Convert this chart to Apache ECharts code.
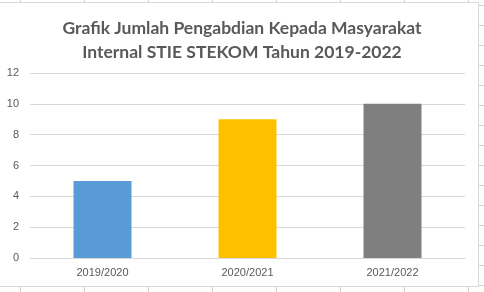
<!DOCTYPE html>
<html>
<head>
<meta charset="utf-8">
<script src="https://cdn.jsdelivr.net/npm/echarts@6/dist/echarts.min.js"></script>
<style>
html,body{margin:0;padding:0;width:484px;height:292px;overflow:hidden;background:#fff;}
#sheet{position:absolute;left:0;top:0;width:484px;height:292px;
background-image:
 linear-gradient(to right, transparent 20px, #d4d4d4 20px, #d4d4d4 21px, transparent 21px),
 linear-gradient(to bottom, transparent 5px, #d4d4d4 5px, #d4d4d4 6px, transparent 6px);
background-size:64px 100%, 100% 20px;
background-position:0 0, 0 0;}
#box{position:absolute;left:-1px;top:2px;width:480px;height:285px;box-sizing:border-box;border:1px solid #d9d9d9;background:#fff;}
#chart{position:absolute;left:0;top:0;width:484px;height:292px;}
</style>
</head>
<body>
<div id="sheet"></div>
<div id="box"></div>
<div id="chart"></div>
<script>
const titleLines = ["Grafik Jumlah Pengabdian Kepada Masyarakat", "Internal STIE STEKOM Tahun 2019-2022"];
const categories = ["2019/2020", "2020/2021", "2021/2022"];
const values = [5, 9, 10];
const barColors = ["#5B9BD5", "#FFC000", "#7F7F7F"];
const yTicks = [0, 2, 4, 6, 8, 10, 12];

const chart = echarts.init(document.getElementById('chart'), null, {renderer: 'canvas'});
chart.setOption({
  backgroundColor: 'transparent',
  animation: false,
  title: {
    text: titleLines.join('\n'),
    left: 'center',
    top: 11,
    textStyle: {fontFamily: 'Lato', fontWeight: 'bold', fontSize: 17.5, color: '#595959', lineHeight: 24}
  },
  grid: {left: 30, right: 19, top: 73, bottom: 34, containLabel: false},
  xAxis: {
    type: 'category',
    data: categories,
    axisLine: {lineStyle: {color: '#d9d9d9', width: 1}},
    axisTick: {show: false},
    axisLabel: {color: '#595959', fontFamily: 'Liberation Sans', fontSize: 11, margin: 9}
  },
  yAxis: {
    type: 'value',
    min: yTicks[0],
    max: yTicks[yTicks.length - 1],
    interval: 2,
    axisLine: {show: false},
    axisTick: {show: false},
    splitLine: {lineStyle: {color: '#d9d9d9', width: 1}},
    axisLabel: {color: '#595959', fontFamily: 'Liberation Sans', fontSize: 11, margin: 11}
  },
  series: [{
    type: 'bar',
    barWidth: '40%',
    data: values.map((v, i) => ({value: v, itemStyle: {color: barColors[i]}}))
  }]
});
</script>
</body>
</html>
